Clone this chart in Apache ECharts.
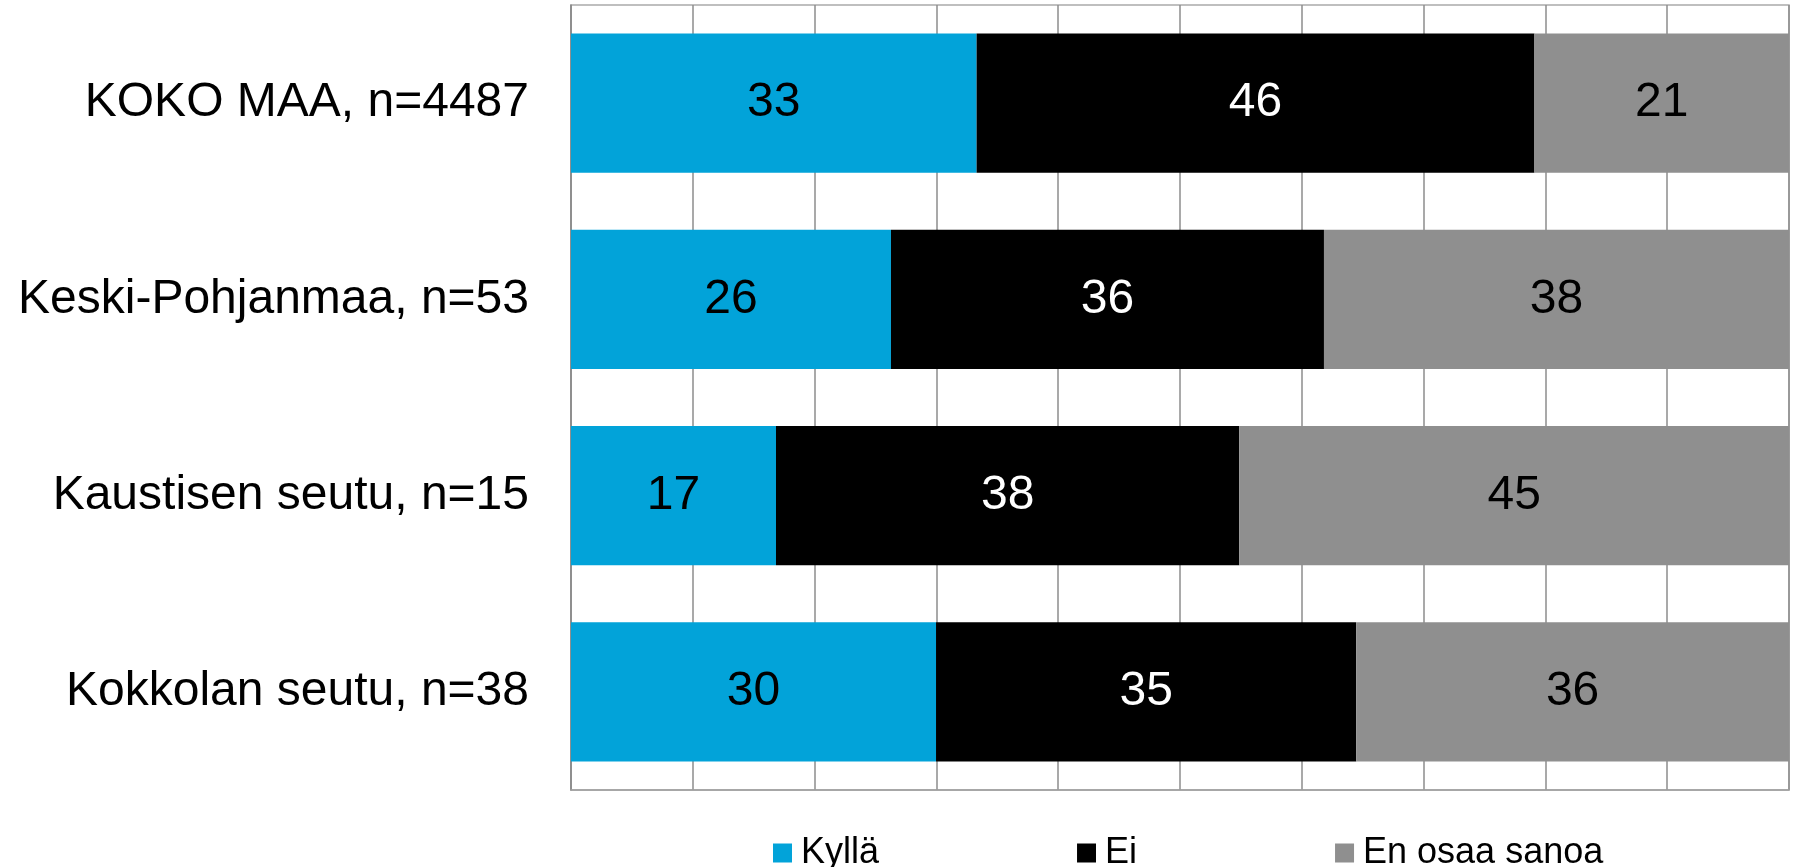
<!DOCTYPE html>
<html>
<head>
<meta charset="utf-8">
<script src="https://cdn.jsdelivr.net/npm/echarts@6/dist/echarts.min.js"></script>
<style>
  html, body { margin: 0; padding: 0; background: #fff; }
  #main { width: 1793px; height: 867px; }
</style>
</head>
<body>
<div id="main"></div>
<script>
// alueet ylhäältä alas
var categories = ["KOKO MAA, n=4487", "Keski-Pohjanmaa, n=53", "Kaustisen seutu, n=15", "Kokkolan seutu, n=38"];
var seriesNames = ["Kyllä", "Ei", "En osaa sanoa"];
var kylla = [33.3, 26.27, 16.83, 29.97];
var ei = [45.8, 35.55, 38.04, 34.5];
var eos = [20.9, 38.18, 45.13, 35.53];

var colors = ["#02a3d9", "#000000", "#8f8f8f"];
var labelColors = ["#000000", "#ffffff", "#000000"];
var font = "'Liberation Sans', Arial, sans-serif";

var myChart = echarts.init(document.getElementById("main"));

var option = {
  animation: false,
  textStyle: { fontFamily: font },
  grid: {
    left: 571,
    right: 4,
    top: 5,
    bottom: 77,
    show: true,
    borderColor: "#ababab",
    borderWidth: 1.5,
  },
  legend: {
    data: seriesNames,
    left: 768,
    top: 830,
    itemWidth: 19,
    itemHeight: 19,
    itemGap: 198,
    icon: "rect",
    textStyle: { fontSize: 36, color: "#000", fontFamily: font, padding: [0, 0, 0, 4] },
  },
  xAxis: {
    type: "value",
    min: 0,
    max: 100,
    interval: 10,
    axisLabel: { show: false },
    axisTick: { show: false },
    axisLine: { show: true, lineStyle: { color: "#a0a0a0", width: 1.5 } },
    splitLine: { show: true, lineStyle: { color: "#8c8c8c", width: 1.5 } },
  },
  yAxis: {
    type: "category",
    inverse: true,
    data: categories,
    axisTick: { show: false },
    axisLine: { show: true, lineStyle: { color: "#8c8c8c", width: 1.5 } },
    axisLabel: { fontSize: 48, color: "#000", margin: 42, fontFamily: font },
  },
  series: [kylla, ei, eos].map(function (vals, i) {
    return {
      name: seriesNames[i],
      type: "bar",
      stack: "total",
      barCategoryGap: "29%",
      data: vals,
      itemStyle: { color: colors[i] },
      label: {
        show: true,
        position: "inside",
        fontSize: 48,
        color: labelColors[i],
        fontFamily: font,
        formatter: function (p) {
          return Math.round(p.value);
        },
      },
    };
  }),
};

option && myChart.setOption(option);
</script>
</body>
</html>
